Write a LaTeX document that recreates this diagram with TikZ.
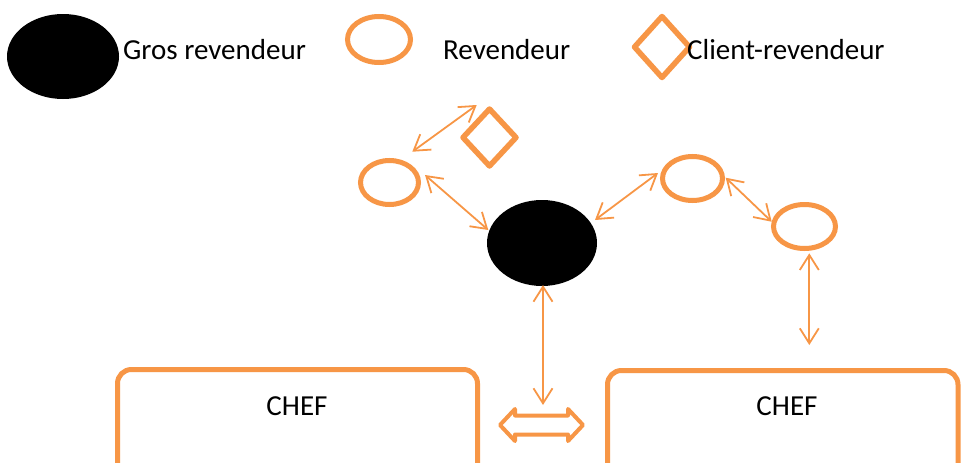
\documentclass[tikz,border=0pt]{standalone}
\usepackage{fontspec}
\setmainfont{Carlito}
\usetikzlibrary{shapes.geometric,arrows.meta,calc}
\definecolor{accent}{HTML}{F79646}
\tikzset{
  bigfont/.style={font=\fontsize{29}{35}\selectfont},
  wholesaler/.style={ellipse, fill=black, draw=none, inner sep=0pt, outer sep=0pt},
  reseller/.style={ellipse, draw=accent, line width=5pt, fill=white, inner sep=0pt, outer sep=0pt},
  clientres/.style={diamond, draw=accent, line width=5.5pt, line join=round, fill=white, inner sep=0pt, outer sep=0pt},
  chefbox/.style={rectangle, draw=accent, line width=5pt, rounded corners=14pt, fill=white, inner sep=0pt, outer sep=0pt},
  legendtext/.style={bigfont, anchor=base west, inner sep=0pt},
  cheftext/.style={bigfont, anchor=base, inner sep=0pt},
  link/.style={draw=accent, line width=1.8pt,
    {Straight Barb[length=15pt,width=19pt]}-{Straight Barb[length=15pt,width=19pt]}},
  bigarrow/.style={draw=accent, line width=4pt, line join=round, fill=white},
}
\begin{document}
\begin{tikzpicture}[x=1pt,y=-1pt]
\useasboundingbox (0,0) rectangle (962,463);
\clip (0,0) rectangle (962,463);

% legend
\node[wholesaler, minimum width=112pt, minimum height=85pt] (legG) at (63,56.5) {};
\node[legendtext] (legGt) at (123,59) {Gros revendeur};
\node[reseller, minimum width=63pt, minimum height=46pt] (legR) at (379,39.5) {};
\node[legendtext] (legRt) at (443,59) {Revendeur};
\node[clientres, minimum width=55pt, minimum height=61pt] (legC) at (662,47) {};
\node[legendtext] (legCt) at (687,59) {Client-revendeur};

% network
\node[clientres, minimum width=53pt, minimum height=57pt] (dres) at (489.5,137.5) {};
\node[reseller, minimum width=58pt, minimum height=44pt] (lres) at (389.5,182.5) {};
\node[wholesaler, minimum width=110pt, minimum height=86pt] (gros) at (542,243) {};
\node[reseller, minimum width=60pt, minimum height=44pt] (mres) at (692.5,178.5) {};
\node[reseller, minimum width=62pt, minimum height=44pt] (rres) at (804.5,226.5) {};

% chiefs
\node[chefbox, minimum width=360pt, minimum height=150.5pt] (chefL) at (297.5,444.75) {};
\node[cheftext] (chefLt) at (297,415) {CHEF};
\node[chefbox, minimum width=350.5pt, minimum height=149.5pt] (chefR) at (782.75,445.25) {};
\node[cheftext] (chefRt) at (787,415) {CHEF};

\coordinate (grosEnd) at (543,405);
\coordinate (rresEnd) at (809.3,345);
\coordinate (dbl) at (541.5,425);

% links
\draw[link] ($(lres)+(22.8,-30.8)$) -- ($(dres)+(-12.8,-32.5)$);
\draw[link] ($(lres)+(35.5,-7.5)$) -- ($(gros)+(-53.7,-13)$);
\draw[link] ($(gros)+(53,-23)$) -- ($(mres)+(-34.5,-5.5)$);
\draw[link] ($(mres)+(33.2,-0.8)$) -- ($(rres)+(-32.8,-4.8)$);
\draw[link] ($(rres)+(4.8,26.8)$) -- (rresEnd);
\draw[link] ($(gros)+(1,42)$) -- (grosEnd);

% exchange between the two chiefs
\draw[bigarrow, shift={(dbl)}]
  (-41.5,0) -- (-26.5,-16) -- (-26.5,-9.5) -- (26.5,-9.5) -- (26.5,-16)
  -- (41.5,0) -- (26.5,16) -- (26.5,9.5) -- (-26.5,9.5) -- (-26.5,16) -- cycle;
\end{tikzpicture}
\end{document}
